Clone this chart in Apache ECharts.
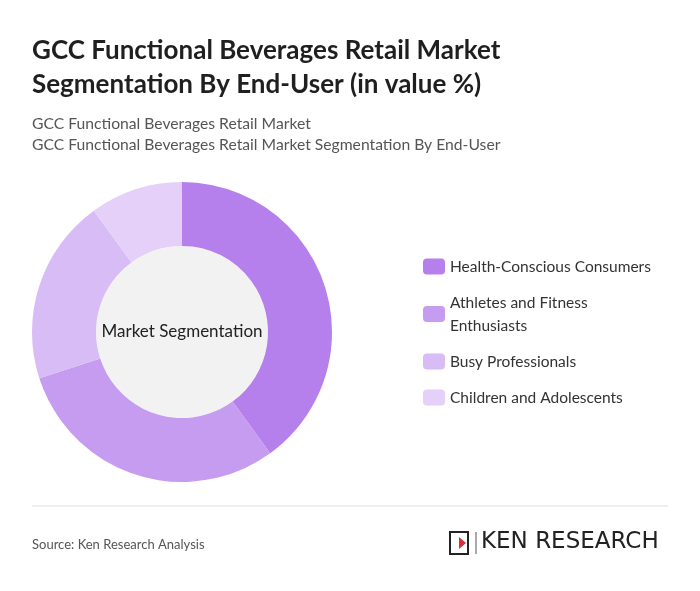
<!DOCTYPE html><html><head><meta charset="utf-8"><script src="https://cdn.jsdelivr.net/npm/echarts@6/dist/echarts.min.js"></script>
<style>body{margin:0;background:#fff}#c{width:700px;height:591px}</style></head><body><div id="c"></div><script>
const categories=["Health-Conscious Consumers","Athletes and Fitness Enthusiasts","Busy Professionals","Children and Adolescents"];
const values=[40,30,20,10];
const colors=["#b57fec","#c59cf0","#d7bcf5","#e4d0f8"];
const chart=echarts.init(document.getElementById('c'));
chart.setOption({
 animation:false,
 graphic:[
  {type:'text',left:32,top:34,style:{text:'GCC Functional Beverages Retail Market\nSegmentation By End-User (in value %)',font:'bold 26px Lato',fill:'#1f1f1f',lineHeight:34}},
  {type:'text',left:32,top:113,style:{text:'GCC Functional Beverages Retail Market\nGCC Functional Beverages Retail Market Segmentation By End-User',font:'15.7px Lato',fill:'#555',lineHeight:21}},
  {type:'circle',shape:{cx:182,cy:332,r:86},style:{fill:'#f2f2f2'},z:-1},
  {type:'text',x:182,y:332,style:{text:'Market Segmentation',font:'17px Lato',fill:'#222',align:'center',verticalAlign:'middle'}},
  {type:'line',shape:{x1:32,y1:506,x2:668,y2:506},style:{stroke:'#ddd',lineWidth:1}},
  {type:'text',left:32,top:538,style:{text:'Source: Ken Research Analysis',font:'13px Lato',fill:'#555'}},
  {type:'rect',shape:{x:450,y:532,width:18,height:22},style:{fill:'none',stroke:'#222',lineWidth:2}},
  {type:'polygon',shape:{points:[[459,537],[466,543],[459,549]]},style:{fill:'#d62f36'}},
  {type:'line',shape:{x1:476,y1:532,x2:476,y2:554},style:{stroke:'#555',lineWidth:1}},
  {type:'text',left:481,top:531,style:{text:'KEN RESEARCH',font:'23px "DejaVu Sans"',fill:'#222'}}
 ],
 legend:{orient:'vertical',left:418,top:250,itemWidth:22,itemHeight:16,itemGap:13,icon:'roundRect',
  textStyle:{fontSize:15.5,fontFamily:'Lato',color:'#333',width:218,overflow:'break',lineHeight:23},
  data:categories},
 series:[{type:'pie',center:[182,332],radius:[86,150],startAngle:90,clockwise:true,label:{show:false},
  itemStyle:{borderColor:'#fff',borderWidth:0},
  data:categories.map((n,i)=>({name:n,value:values[i],itemStyle:{color:colors[i]}}))}]
});
</script></body></html>
